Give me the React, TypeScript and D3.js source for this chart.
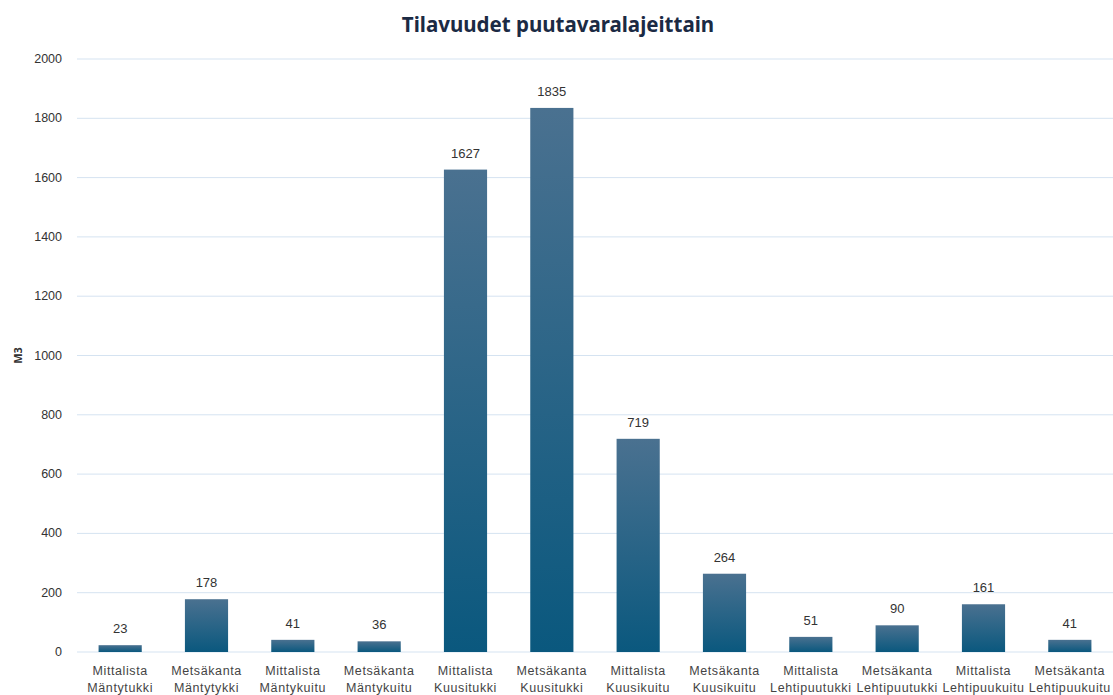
import React from "react";
import * as d3 from "d3";

const categories = [
  ["Mittalista", "Mäntytukki"],
  ["Metsäkanta", "Mäntytykki"],
  ["Mittalista", "Mäntykuitu"],
  ["Metsäkanta", "Mäntykuitu"],
  ["Mittalista", "Kuusitukki"],
  ["Metsäkanta", "Kuusitukki"],
  ["Mittalista", "Kuusikuitu"],
  ["Metsäkanta", "Kuusikuitu"],
  ["Mittalista", "Lehtipuutukki"],
  ["Metsäkanta", "Lehtipuutukki"],
  ["Mittalista", "Lehtipuukuitu"],
  ["Metsäkanta", "Lehtipuukuitu"],
];
const values = [23, 178, 41, 36, 1627, 1835, 719, 264, 51, 90, 161, 41];
const yTicks = [0, 200, 400, 600, 800, 1000, 1200, 1400, 1600, 1800, 2000];
const title = "Tilavuudet puutavaralajeittain";
const yLabel = "M3";

export default function App() {
  const W = 1113, H = 695;
  const left = 77, right = 1113, top = 59, bottom = 652;
  const x = d3.scaleBand<number>().domain(d3.range(values.length)).range([left, right]).paddingInner(0.5).paddingOuter(0.25);
  const y = d3.scaleLinear().domain([0, 2000]).range([bottom, top]);
  const font = "'Liberation Sans', Arial, sans-serif";
  return (
    <svg width={W} height={H} style={{ position: "absolute", left: 0, top: 0, background: "#fff" }}>
      <defs>
        <linearGradient id="barGrad" x1="0" y1="0" x2="0" y2="1">
          <stop offset="0" stopColor="#4a7190" />
          <stop offset="1" stopColor="#0a587e" />
        </linearGradient>
      </defs>
      <text x={558} y={32} textAnchor="middle" fontFamily="'Noto Sans', sans-serif" fontWeight="bold" fontSize={20.5} fill="#1b2a44">{title}</text>
      <text transform={`translate(22,${(top + bottom) / 2}) rotate(-90)`} textAnchor="middle" fontFamily="'Noto Sans', sans-serif" fontWeight="bold" fontSize={11} fill="#333">{yLabel}</text>
      {yTicks.map((t) => (
        <g key={t}>
          <line x1={left} x2={right} y1={y(t)} y2={y(t)} stroke="#d5e3f1" strokeWidth={1} />
          <text x={62} y={y(t) + 4} textAnchor="end" fontFamily={font} fontSize={12.5} fill="#333">{t}</text>
        </g>
      ))}
      {values.map((v, i) => {
        const bx = x(i)!;
        const bw = x.bandwidth();
        return (
          <g key={i}>
            <rect x={bx} y={y(v)} width={bw} height={bottom - y(v)} fill="url(#barGrad)" />
            <text x={bx + bw / 2} y={y(v) - 12} textAnchor="middle" fontFamily={font} fontSize={13} fill="#333">{v}</text>
            <text x={bx + bw / 2} y={675} textAnchor="middle" fontFamily={font} fontSize={12.5} letterSpacing={0.6} fill="#444">{categories[i][0]}</text>
            <text x={bx + bw / 2} y={692} textAnchor="middle" fontFamily={font} fontSize={12.5} letterSpacing={0.6} fill="#444">{categories[i][1]}</text>
          </g>
        );
      })}
    </svg>
  );
}
